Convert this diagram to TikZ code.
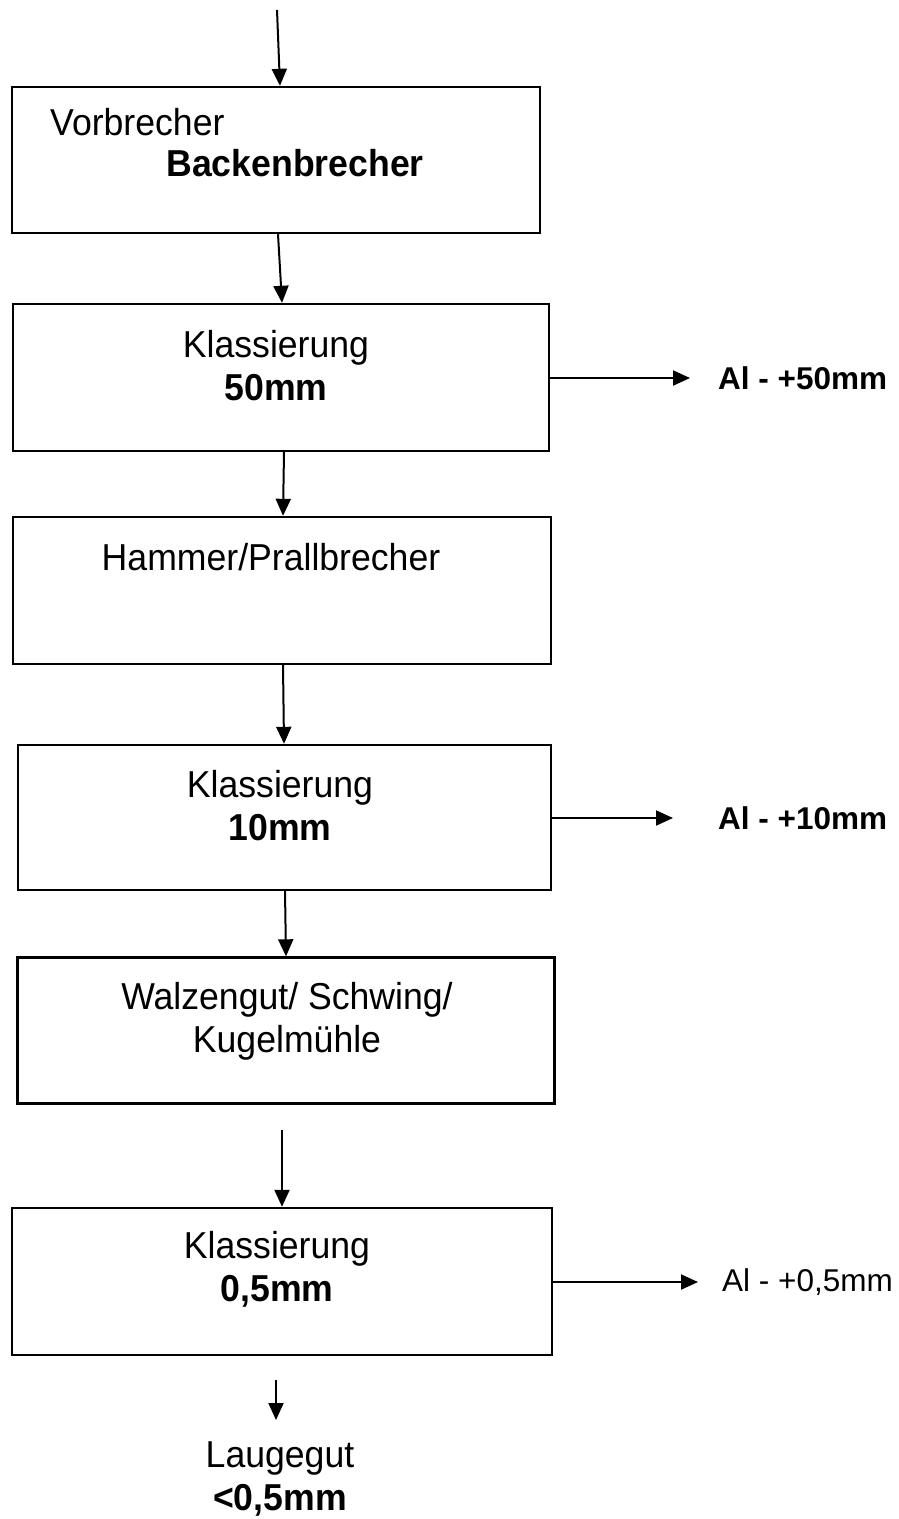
\documentclass[tikz,border=0pt]{standalone}
\usepackage{fontspec}
\setmainfont{Liberation Sans}
\newfontfamily\tallfont[FakeStretch=0.95]{Liberation Sans}
\usetikzlibrary{arrows.meta}
\begin{document}
\begin{tikzpicture}[x=1pt,y=-1pt,
  stepbox/.style={draw, line width=2.4pt, rectangle, inner sep=0pt},
  lbl/.style={font=\tallfont\fontsize{37.5}{43}\selectfont, inner sep=0pt, align=center},
  side/.style={font=\fontsize{31.5}{38}\selectfont, inner sep=0pt, anchor=west},
  arr/.style={line width=2pt, -{Triangle[length=17pt,width=15pt]}}]
\useasboundingbox (0,0) rectangle (899,1519);
% boxes
\node[stepbox, minimum width=528, minimum height=146] (b1) at (276,160) {};
\node[stepbox, minimum width=536, minimum height=147] (b2) at (281,377.5) {};
\node[stepbox, minimum width=538, minimum height=147] (b3) at (282,590.5) {};
\node[stepbox, minimum width=533, minimum height=145] (b4) at (284.5,817.5) {};
\node[stepbox, minimum width=537, minimum height=146] (b5) at (286,1030.5) {};
\node[stepbox, minimum width=540, minimum height=147] (b6) at (282,1281.5) {};
% texts
\node[lbl, anchor=west] (t1a) at (50,122) {Vorbrecher};
\node[lbl] (t1b) at (295,163) {\bfseries Backenbrecher};
\node[lbl] (t2) at (276,366) {Klassierung\\\bfseries 50mm};
\node[lbl] (t3) at (271,557) {Hammer/Prallbrecher};
\node[lbl] (t4) at (280,806) {Klassierung\\\bfseries 10mm};
\node[lbl] (t5) at (287,1021) {Walzengut/ Schwing/\\Kugelmühle};
\node[lbl] (t6) at (277,1269) {Klassierung\\\bfseries 0,5mm};
\node[side] (o2) at (718,378) {\bfseries Al - +50mm};
\node[side] (o4) at (718,818) {\bfseries Al - +10mm};
\node[side] (o6) at (722,1282) {Al - +0,5mm};
\node[lbl] (t7) at (280,1479) {Laugegut\\\bfseries <0,5mm};
% free ends
\coordinate (top) at (277,10);
\coordinate (s5) at (282,1130);
\coordinate (s6) at (276,1380);
\coordinate (e7) at (276,1420);
\coordinate (e2) at (690,378);
\coordinate (e4) at (673,818);
\coordinate (e6) at (698,1282);
% vertical arrows
\draw[arr] (top) -- (b1.north -| 280,0);
\draw[arr] (b1.south -| 278,0) -- (b2.north -| 282,0);
\draw[arr] (b2.south -| 284,0) -- (b3.north -| 283,0);
\draw[arr] (b3.south -| 283,0) -- (b4.north -| 284,0);
\draw[arr] (b4.south -| 285,0) -- (b5.north -| 286,0);
\draw[arr] (s5) -- (b6.north -| 282,0);
\draw[arr] (s6) -- (e7);
% side arrows
\draw[arr] (b2.east |- e2) -- (e2);
\draw[arr] (b4.east |- e4) -- (e4);
\draw[arr] (b6.east |- e6) -- (e6);
\end{tikzpicture}
\end{document}
